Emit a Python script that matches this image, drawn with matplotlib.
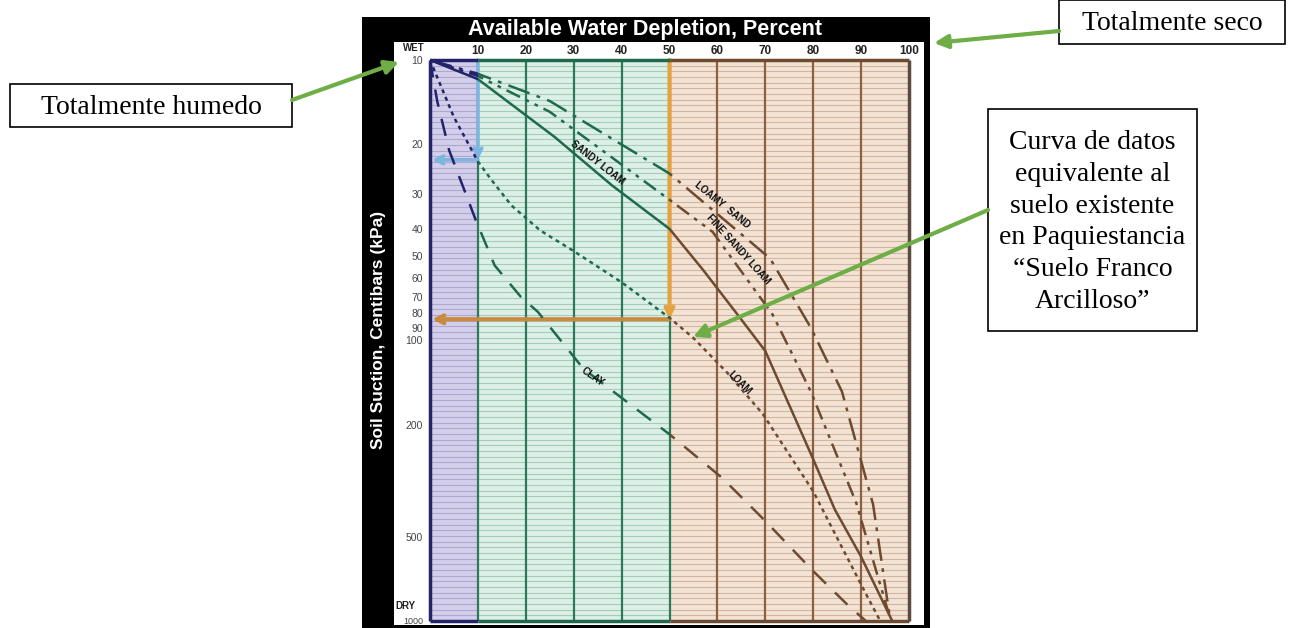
import numpy as np
import matplotlib
matplotlib.use("Agg")
import matplotlib.pyplot as plt
from matplotlib.patches import Rectangle, FancyArrowPatch
from matplotlib.ticker import NullLocator
from matplotlib import font_manager

# ---------------- data ----------------
x_ticks = [10, 20, 30, 40, 50, 60, 70, 80, 90, 100]
y_ticks = [10, 20, 30, 40, 50, 60, 70, 80, 90, 100, 200, 500, 1000]

clay_x = [0, 1.5, 4, 9.5, 13.5, 19, 22.5, 32, 50, 61, 70, 80, 87, 91]
clay_y = [10, 14, 21, 37, 54, 70, 79, 126, 216, 309, 440, 664, 870, 1000]

loam_x = [0, 5, 10, 13, 17, 23, 30, 40, 50, 55, 62, 69.5, 80, 91, 94]
loam_y = [10, 16, 23, 27, 33, 40.5, 48, 62, 83, 98, 130, 183, 345, 800, 1000]

sandy_loam_x = [0, 10, 26, 38, 50, 57, 64, 70, 80, 84.5, 90, 96.5]
sandy_loam_y = [10, 11.7, 18.8, 28, 40, 56, 80, 109, 265, 400, 590, 1000]

fine_sandy_loam_x = [0, 10, 25, 50, 59, 71.5, 79.5, 89, 95.6, 96.4]
fine_sandy_loam_y = [10, 11.4, 15.3, 31.5, 41, 80.7, 152, 380, 921, 1000]

loamy_sand_x = [0, 10, 25, 50, 71, 79.5, 86, 92.5, 95.8, 96.4]
loamy_sand_y = [10, 11.2, 14.0, 25.4, 51, 90, 152, 384, 921, 1000]

blue_arrow = (10, 22.7)     # depletion %, suction kPa
orange_arrow = (50, 84)

# ---------------- fonts ----------------
names = {f.name for f in font_manager.fontManager.ttflist}
sans = 'Liberation Sans' if 'Liberation Sans' in names else 'DejaVu Sans'
serif = 'Liberation Serif' if 'Liberation Serif' in names else 'DejaVu Serif'

W, H = 1306, 628
fig = plt.figure(figsize=(W / 100, H / 100), dpi=100)
fig.patch.set_facecolor('white')

# ---------------- background frame ----------------
bg = fig.add_axes([0, 0, 1, 1], zorder=0)
bg.set_xlim(0, W); bg.set_ylim(H, 0); bg.axis('off')
bg.add_patch(Rectangle((362, 17), 930 - 362, H - 17 + 5, facecolor='black', edgecolor='none'))
bg.add_patch(Rectangle((394, 42), 924 - 394, 625 - 42, facecolor='white', edgecolor='none'))
bg.text(645, 30, 'Available Water Depletion, Percent', color='white', fontsize=15.5,
        fontweight='bold', family=sans, ha='center', va='center')
bg.text(378, 330, 'Soil Suction, Centibars (kPa)', color='white', fontsize=12.5,
        fontweight='bold', family=sans, ha='center', va='center', rotation=90)
bg.text(414, 48, 'WET', ha='center', va='center', fontsize=7, fontweight='bold',
        family=sans, color='#222')
bg.text(405, 606, 'DRY', ha='center', va='center', fontsize=7, fontweight='bold',
        family=sans, color='#222')

# ---------------- main plot ----------------
L, R, T, B = 430, 909, 60, 621
ax = fig.add_axes([L / W, 1 - B / H, (R - L) / W, (B - T) / H], zorder=1)
ax.patch.set_alpha(0)
ax.set_yscale('log')
ax.set_xlim(0, 100)
ax.set_ylim(1000, 10)

regions = [
    (0, 10, '#d3cfea', '#9d97c9', '#23236a'),
    (10, 50, '#dcf0e7', '#8fbda8', '#1f6a4c'),
    (50, 100, '#f2e3d5', '#c8a48a', '#6e4a30'),
]
stripes = np.geomspace(10, 1000, 100)[1:-1]
for x0, x1, fill, line, dark in regions:
    ax.axvspan(x0, x1, facecolor=fill, edgecolor='none', zorder=0)
    ax.hlines(stripes, x0, x1, colors=line, linewidth=0.8, alpha=0.7, zorder=1)

# vertical grid
ax.vlines([10, 20, 30, 40, 50], 10, 1000, colors='#2d7a5a', linewidth=1.6, zorder=2)
ax.vlines([60, 70, 80, 90], 10, 1000, colors='#8c5f40', linewidth=1.6, zorder=2)

# frame
for x0, x1, fill, line, dark in regions:
    ax.hlines([10, 1000], x0, x1, colors=dark, linewidth=2.5, zorder=6, clip_on=False)
ax.vlines(0, 10, 1000, colors='#23236a', linewidth=2.5, zorder=6, clip_on=False)
ax.vlines(100, 10, 1000, colors='#5a4a40', linewidth=2.5, zorder=6, clip_on=False)
for s in ax.spines.values():
    s.set_visible(False)

# arrows (blue and orange)
bx, by = blue_arrow
ox, oy = orange_arrow
for (p0, p1, col, lw) in [((bx, 10), (bx, by), '#7db5e0', 2.6),
                          ((bx, by), (0.4, by), '#7db5e0', 2.6),
                          ((ox, 10), (ox, oy), '#e7a23e', 3.0),
                          ((ox, oy), (0.4, oy), '#c98a3e', 3.0)]:
    ax.annotate('', xy=p1, xytext=p0, zorder=3,
                arrowprops=dict(arrowstyle='->', color=col, lw=lw, mutation_scale=14,
                                shrinkA=0, shrinkB=0))

# curves, coloured per region via clipping
curves = [
    (clay_x, clay_y, (0, (7, 5))),
    (loam_x, loam_y, (0, (1.6, 1.6))),
    (sandy_loam_x, sandy_loam_y, '-'),
    (fine_sandy_loam_x, fine_sandy_loam_y, (0, (6, 2.5, 1.5, 2.5, 1.5, 2.5))),
    (loamy_sand_x, loamy_sand_y, (0, (9, 3, 1.5, 3))),
]
for cx, cy, ls in curves:
    for x0, x1, fill, line, dark in regions:
        ln, = ax.plot(cx, cy, color=dark, linestyle=ls, linewidth=1.8, zorder=4,
                      solid_capstyle='butt', dash_capstyle='butt')
        clip = Rectangle((x0, 5), x1 - x0, 2000, transform=ax.transData)
        ln.set_clip_path(clip)

# curve labels
labels = [
    ('SANDY LOAM', 34.9, 23.3, -38),
    ('LOAMY  SAND', 61.0, 32.9, -39),
    ('FINE SANDY LOAM', 64.3, 47.5, -48),
    ('LOAM', 64.7, 141.6, -45),
    ('CLAY', 34.0, 135, -35),
]
for txt, lx, lyv, rot in labels:
    ax.text(lx, lyv, txt, rotation=rot, rotation_mode='anchor', ha='center', va='center',
            fontsize=7, fontweight='bold', family=sans, color='#111', zorder=5)

# ticks
ax.set_xticks(x_ticks)
ax.set_xticklabels([str(v) for v in x_ticks])
ax.xaxis.set_ticks_position('top')
ax.tick_params(axis='x', length=0, pad=2, labelsize=8.5, labelcolor='#222')
for t in ax.get_xticklabels():
    t.set_fontweight('bold'); t.set_family(sans)
ax.set_yticks(y_ticks)
ax.set_yticklabels([str(v) for v in y_ticks])
ax.yaxis.set_minor_locator(NullLocator())
ax.xaxis.set_minor_locator(NullLocator())
ax.tick_params(axis='y', length=0, pad=5, labelsize=7.5, labelcolor='#444')
for t in ax.get_yticklabels():
    t.set_family(sans)
ax.get_yticklabels()[-1].set_fontsize(6.5)

# ---------------- overlay annotations ----------------
ov = fig.add_axes([0, 0, 1, 1], zorder=3)
ov.set_xlim(0, W); ov.set_ylim(H, 0); ov.axis('off')
ov.patch.set_alpha(0)

boxes = [
    (10, 84, 292, 127, 'Totalmente humedo', 1.0),
    (1059, 0, 1285, 44, 'Totalmente seco', 1.0),
    (988, 109, 1197, 331, 'Curva de datos\nequivalente al\nsuelo existente\nen Paquiestancia\n\u201cSuelo Franco\nArcilloso\u201d', 1.36),
]
for x0, y0, x1, y1, txt, lsp in boxes:
    ov.add_patch(Rectangle((x0, y0), x1 - x0, y1 - y0, facecolor='white', edgecolor='black', lw=1.2))
    ov.text((x0 + x1) / 2, (y0 + y1) / 2 + 2, txt, ha='center', va='center', family=serif,
            fontsize=20, linespacing=lsp, color='black')

green = '#6fad47'
for (xa, ya), (xb, yb) in [((292, 100), (399, 62)), ((1059, 31), (934, 43)), ((988, 210), (693, 337))]:
    ov.add_patch(FancyArrowPatch((xa, ya), (xb, yb), arrowstyle='-|>', mutation_scale=20,
                                 color=green, lw=3, shrinkA=0, shrinkB=0))

fig.savefig('out.png', dpi=100)
